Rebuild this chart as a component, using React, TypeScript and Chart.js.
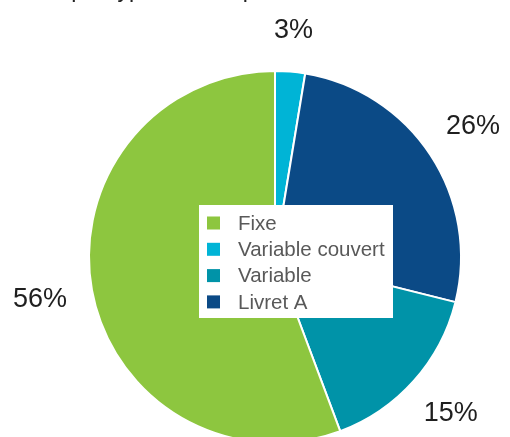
import React, { useEffect, useRef } from "react";
import { Chart, registerables } from "chart.js";

Chart.register(...registerables);

// ---- data ----
const categories = ["Variable couvert", "Livret A", "Variable", "Fixe"];
const shares = [2.6, 26.3, 15.4, 55.7];
const legendOrder = ["Fixe", "Variable couvert", "Variable", "Livret A"];
const titleText = "Dette par type de taux pour";

// ---- styles ----
const PALETTE = ["#00b4d6", "#0b4a86", "#0093a8", "#8dc63f"];
const FONT = '"Liberation Sans", Arial, Helvetica, sans-serif';

const CANVAS_W = 510;
const CANVAS_H = 520;

const outsideLabels = {
  id: "outsideLabels",
  afterDatasetsDraw(chart: any) {
    const ctx = chart.ctx;
    const meta = chart.getDatasetMeta(0);
    const values: number[] = chart.data.datasets[0].data;
    const total = values.reduce((a, b) => a + b, 0);
    ctx.save();
    ctx.font = `27px ${FONT}`;
    ctx.fillStyle = "#1f1f1f";
    ctx.textAlign = "center";
    ctx.textBaseline = "middle";
    meta.data.forEach((arc: any, i: number) => {
      const p = arc.getProps(["startAngle", "endAngle", "outerRadius", "x", "y"], true);
      const mid = (p.startAngle + p.endAngle) / 2;
      const dist = p.outerRadius + 40 + 13 * Math.abs(Math.cos(mid));
      const tx = p.x + Math.cos(mid) * dist;
      const ty = p.y + Math.sin(mid) * dist;
      const pct = Math.round((values[i] / total) * 100);
      ctx.fillText(`${pct}%`, tx, ty);
    });
    ctx.restore();
  },
  afterDraw(chart: any) {
    const ctx = chart.ctx;
    const meta = chart.getDatasetMeta(0);
    const first = meta.data[0];
    if (!first) return;
    const { x: cx, y: cy } = first.getProps(["x", "y"], true);
    ctx.save();
    // title (mostly cut off at the top of the picture)
    ctx.font = `23px ${FONT}`;
    ctx.fillStyle = "#222";
    ctx.textAlign = "left";
    ctx.textBaseline = "alphabetic";
    ctx.fillText(titleText, 10, -3);

    // legend box in the middle of the pie
    const bx = cx - 76;
    const by = cy - 52;
    const bw = 194;
    const bh = 113;
    ctx.fillStyle = "#ffffff";
    ctx.fillRect(bx, by, bw, bh);
    ctx.font = `20.5px ${FONT}`;
    ctx.textBaseline = "middle";
    const labels: string[] = chart.data.labels;
    const colors: string[] = chart.data.datasets[0].backgroundColor;
    legendOrder.forEach((name, k) => {
      const idx = labels.indexOf(name);
      const rowY = by + 18 + k * 26.3;
      ctx.fillStyle = colors[idx];
      ctx.fillRect(bx + 8, rowY - 6.5, 13, 13);
      ctx.fillStyle = "#595959";
      ctx.fillText(name, bx + 39, rowY + 1);
    });
    ctx.restore();
  },
};

export default function App() {
  const ref = useRef<HTMLCanvasElement | null>(null);
  useEffect(() => {
    if (!ref.current) return;
    const chart = new Chart(ref.current, {
      type: "pie",
      data: {
        labels: categories,
        datasets: [
          {
            data: shares,
            backgroundColor: PALETTE,
            borderColor: "#ffffff",
            borderWidth: 2,
            hoverOffset: 0,
          },
        ],
      },
      options: {
        animation: false,
        responsive: false,
        events: [],
        layout: { padding: { top: 70, left: 88, right: 48, bottom: 76 } },
        plugins: {
          legend: { display: false },
          tooltip: { enabled: false },
          title: { display: false },
        },
      } as any,
      plugins: [outsideLabels],
    });
    return () => chart.destroy();
  }, []);

  return (
    <div
      style={{
        position: "fixed",
        left: 0,
        top: 0,
        width: 510,
        height: 437,
        overflow: "hidden",
        background: "#ffffff",
      }}
    >
      <canvas ref={ref} width={CANVAS_W} height={CANVAS_H} style={{ display: "block" }} />
    </div>
  );
}
